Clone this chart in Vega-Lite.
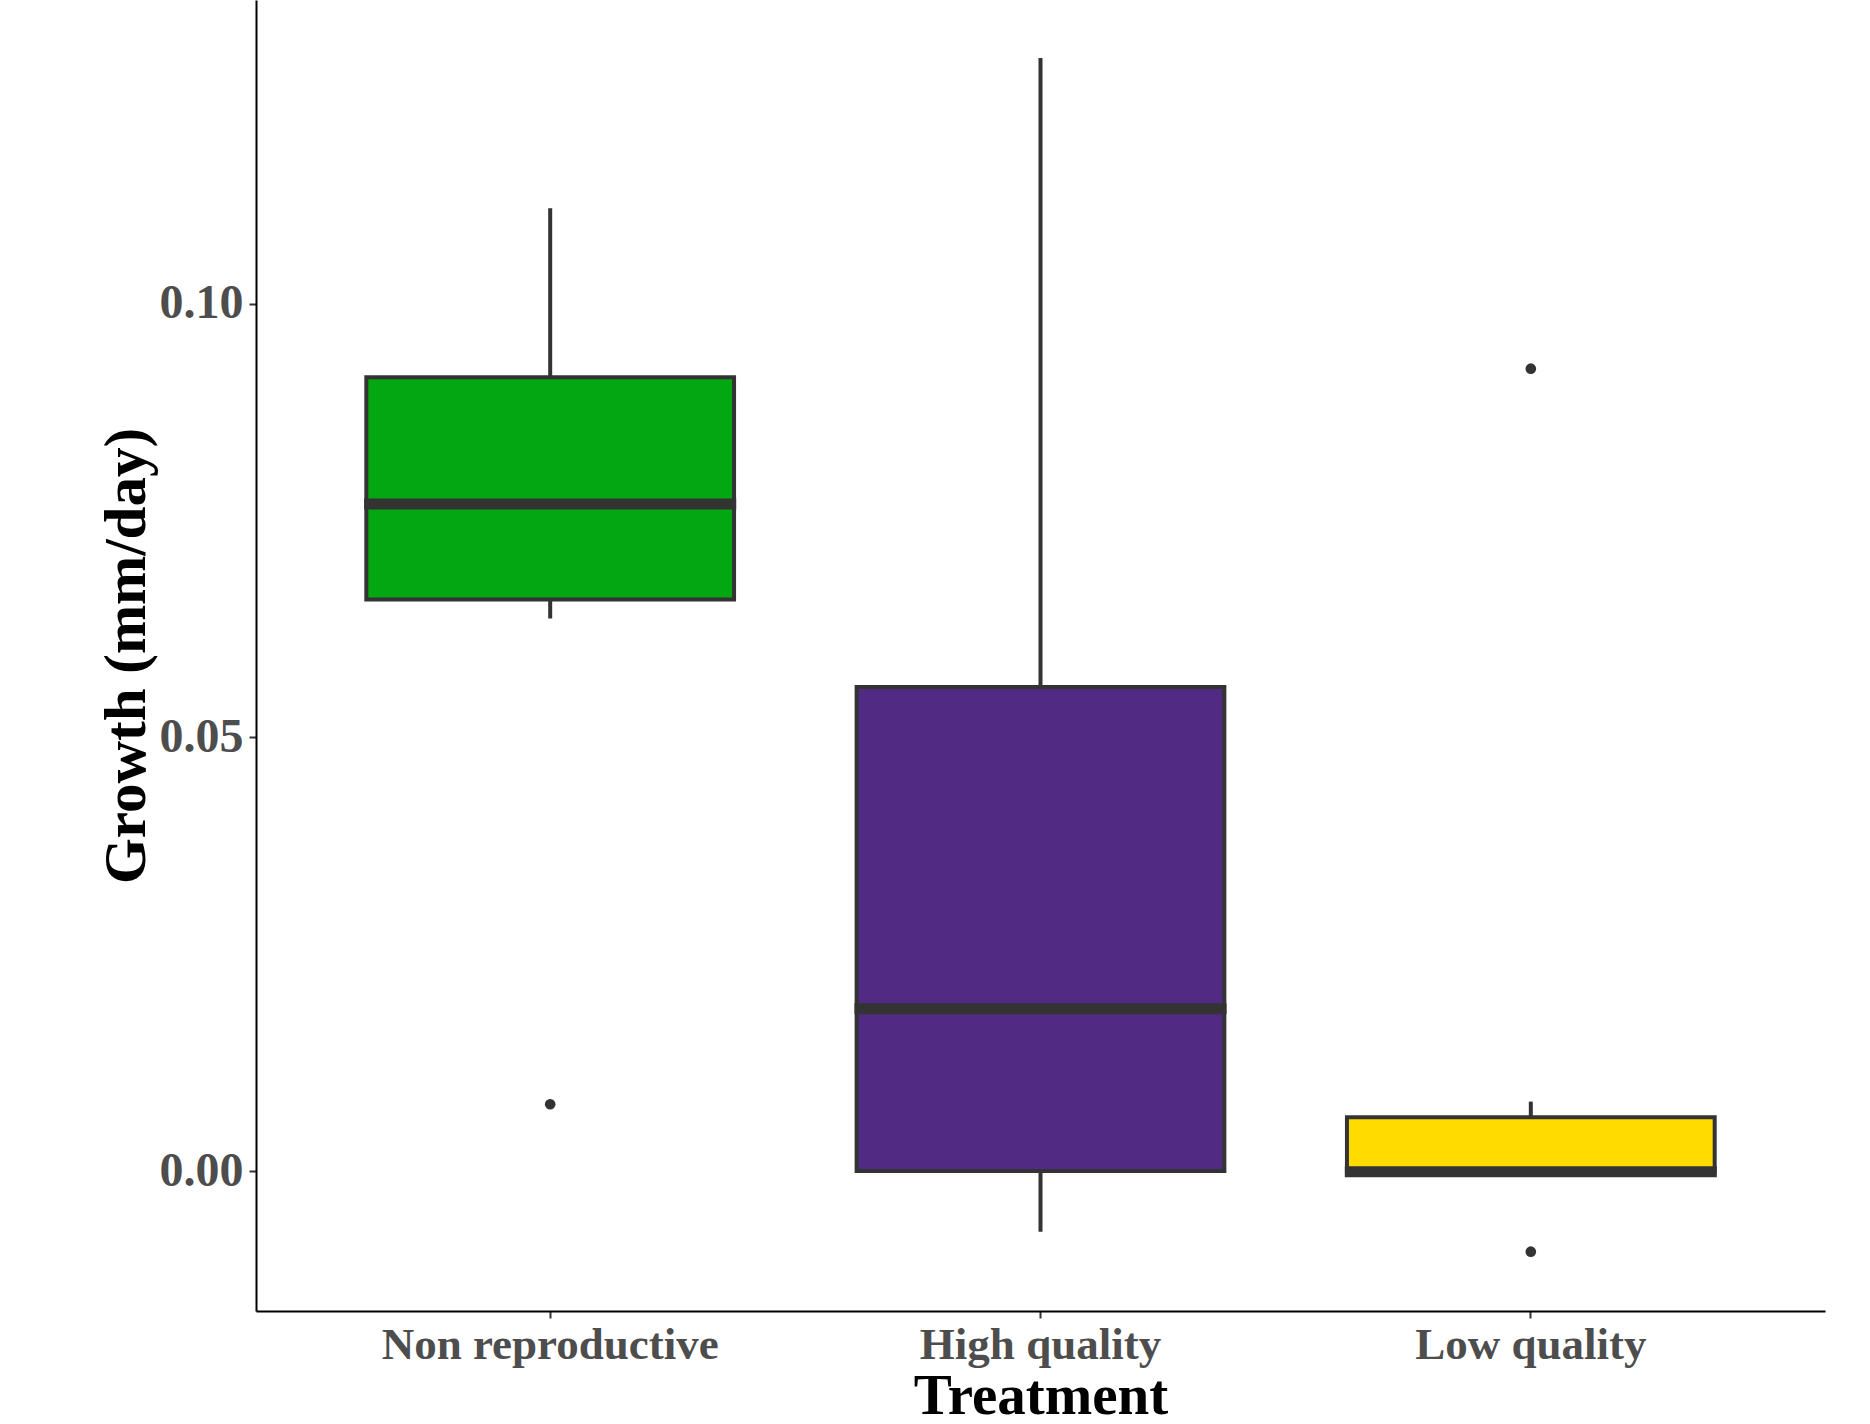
{
  "$schema": "https://vega.github.io/schema/vega-lite/v6.json",
  "width": 1569,
  "height": 1311,
  "autosize": {"type": "none"},
  "padding": {"left": 256, "top": 0, "right": 45, "bottom": 113},
  "background": "white",
  "config": {
    "view": {"stroke": null},
    "font": "Liberation Serif",
    "axis": {
      "grid": false,
      "domainColor": "#000000",
      "domainWidth": 2,
      "tickColor": "#333333",
      "tickWidth": 2,
      "tickSize": 7,
      "labelFont": "Liberation Serif",
      "labelFontWeight": "bold",
      "labelColor": "#4D4D4D",
      "labelLimit": 0,
      "titleFont": "Liberation Serif",
      "titleFontWeight": "bold",
      "titleColor": "#000000"
    }
  },
  "datasets": {
    "boxes": [
      {"treatment": "Non reproductive", "lower": 0.0637, "q1": 0.0659, "median": 0.0769, "q3": 0.0915, "upper": 0.1110},
      {"treatment": "High quality", "lower": -0.0070, "q1": 0.0, "median": 0.0187, "q3": 0.0558, "upper": 0.1283},
      {"treatment": "Low quality", "lower": -0.0001, "q1": -0.0001, "median": -0.0001, "q3": 0.0062, "upper": 0.0080}
    ],
    "outliers": [
      {"treatment": "Non reproductive", "value": 0.0077},
      {"treatment": "Low quality", "value": 0.0925},
      {"treatment": "Low quality", "value": -0.0093}
    ]
  },
  "encoding": {
    "x": {
      "field": "treatment",
      "type": "nominal",
      "sort": ["Non reproductive", "High quality", "Low quality"],
      "scale": {"paddingInner": 0.25, "paddingOuter": 0.225},
      "axis": {"title": "Treatment", "labelAngle": 0, "labelPadding": 4, "labelFontSize": 45, "titleFontSize": 57, "titlePadding": 1}
    }
  },
  "layer": [
    {
      "data": {"name": "boxes"},
      "mark": {"type": "rule", "color": "#333333", "strokeWidth": 4},
      "encoding": {
        "y": {
          "field": "lower",
          "type": "quantitative",
          "scale": {"domain": [-0.01614, 0.135], "nice": false, "zero": false},
          "axis": {"title": "Growth (mm/day)", "values": [0, 0.05, 0.1], "format": ".2f", "labelPadding": 6, "labelFontSize": 48, "titleFontSize": 59, "titlePadding": 3}
        },
        "y2": {"field": "upper"}
      }
    },
    {
      "data": {"name": "boxes"},
      "mark": {"type": "bar", "stroke": "#333333", "strokeWidth": 4},
      "encoding": {
        "y": {"field": "q1", "type": "quantitative"},
        "y2": {"field": "q3"},
        "color": {
          "field": "treatment",
          "type": "nominal",
          "scale": {"domain": ["Non reproductive", "High quality", "Low quality"], "range": ["#03A712", "#512A84", "#FFDB00"]},
          "legend": null
        }
      }
    },
    {
      "data": {"name": "boxes"},
      "mark": {"type": "tick", "color": "#333333", "thickness": 11, "size": 372, "opacity": 1},
      "encoding": {
        "y": {"field": "median", "type": "quantitative"}
      }
    },
    {
      "data": {"name": "outliers"},
      "mark": {"type": "point", "filled": true, "color": "#333333", "size": 113, "opacity": 1},
      "encoding": {
        "y": {"field": "value", "type": "quantitative"}
      }
    }
  ]
}
